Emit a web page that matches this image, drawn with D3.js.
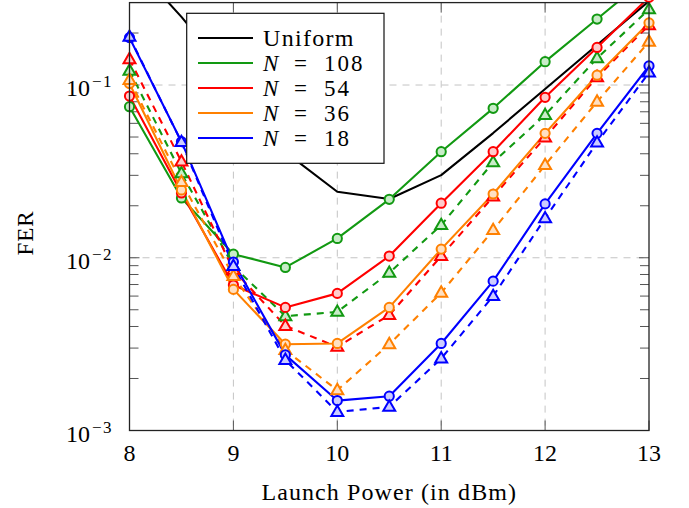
<!DOCTYPE html>
<html><head><meta charset="utf-8">
<script src="https://cdn.jsdelivr.net/npm/d3@7/dist/d3.min.js"></script>
<style>body{margin:0;background:#fff}</style>
</head><body><svg id="c" width="689" height="508"></svg>
<script>
const powers = [8, 8.5, 9, 9.5, 10, 10.5, 11, 11.5, 12, 12.5, 13];
const uniform   = [0.53, 0.248, 0.107, 0.0409, 0.0241, 0.0219, 0.0301, 0.0527, 0.0948, 0.1706, 0.306];
const n108Solid = [0.0749, 0.0222, 0.01049, 0.00879, 0.01294, 0.0218, 0.0411, 0.0733, 0.1365, 0.241, 0.427];
const n108Dash  = [0.121, 0.0308, 0.00895, 0.00459, 0.00486, 0.00818, 0.01546, 0.0357, 0.067, 0.143, 0.274];
const n54Solid  = [0.0863, 0.0237, 0.00695, 0.00516, 0.00622, 0.01023, 0.0207, 0.0411, 0.0849, 0.165, 0.322];
const n54Dash   = [0.141, 0.036, 0.0085, 0.00403, 0.00305, 0.00466, 0.01023, 0.0226, 0.0496, 0.111, 0.222];
const n36Solid  = [0.102, 0.0247, 0.00656, 0.00316, 0.00319, 0.00516, 0.01122, 0.0234, 0.0525, 0.114, 0.229];
const n36Dash   = [0.107, 0.0274, 0.00783, 0.00292, 0.00171, 0.00316, 0.00627, 0.01445, 0.0344, 0.08, 0.178];
const n18Solid  = [0.188, 0.047, 0.00944, 0.00274, 0.00149, 0.00158, 0.00319, 0.00732, 0.0205, 0.0525, 0.129];
const n18Dash   = [0.19, 0.0467, 0.00895, 0.00256, 0.00128, 0.00137, 0.00261, 0.006, 0.0169, 0.0464, 0.118];
const legendLabels = ["Uniform", "108", "54", "36", "18"];
const xTicks = [8, 9, 10, 11, 12, 13];
const yMajor = [1e-3, 1e-2, 1e-1];
const yExp = ["−3", "−2", "−1"];

const colors = {k:"#000000", g:"#129912", r:"#ff0000", o:"#ff8000", b:"#0000ff"};
const fills = {g:"#c8ecc8", r:"#ffcccc", o:"#ffe0c2", b:"#ccccff"};

const series = [
  {v: uniform, c: "k", dash: false, mark: null},
  {v: n108Solid, c: "g", dash: false, mark: "circle"},
  {v: n108Dash, c: "g", dash: true, mark: "triangle"},
  {v: n54Solid, c: "r", dash: false, mark: "circle"},
  {v: n54Dash, c: "r", dash: true, mark: "triangle"},
  {v: n36Solid, c: "o", dash: false, mark: "circle"},
  {v: n36Dash, c: "o", dash: true, mark: "triangle"},
  {v: n18Solid, c: "b", dash: false, mark: "circle"},
  {v: n18Dash, c: "b", dash: true, mark: "triangle"},
];

const L = 129.5, R = 649, T = 2.6, B = 430.5;
const x = d3.scaleLinear().domain([8, 13]).range([L, R]);
const y = d3.scaleLog().domain([1e-3, 0.3]).range([B, T]);
const svg = d3.select("#c");
const font = "'Liberation Serif','DejaVu Serif',serif";

svg.append("defs").append("clipPath").attr("id","clip")
  .append("rect").attr("x",L).attr("y",T).attr("width",R-L).attr("height",B-T);

// grid
const grid = svg.append("g");
grid.selectAll("line.gx").data(xTicks.filter(t=>t>8&&t<13)).join("line")
  .attr("x1",d=>x(d)).attr("x2",d=>x(d)).attr("y1",T).attr("y2",B)
  .attr("stroke","#c4c4c4").attr("stroke-width",1).attr("stroke-dasharray","7,6");
grid.selectAll("line.gy").data(yMajor.filter(t=>t>1e-3)).join("line")
  .attr("y1",d=>y(d)).attr("y2",d=>y(d)).attr("x1",L).attr("x2",R)
  .attr("stroke","#c4c4c4").attr("stroke-width",1).attr("stroke-dasharray","7,6");

// ticks
const yMinor = [];
[1e-3,1e-2,1e-1].forEach(d=>{for(let k=2;k<=9;k++){const v=d*k; if(v<=0.3) yMinor.push(v);}});
const tk = svg.append("g").attr("stroke","#555").attr("stroke-width",1);
tk.selectAll("line.ml").data(yMinor).join("line").attr("x1",L).attr("x2",L+9).attr("y1",d=>y(d)).attr("y2",d=>y(d));
tk.selectAll("line.mr").data(yMinor).join("line").attr("x1",R).attr("x2",R-9).attr("y1",d=>y(d)).attr("y2",d=>y(d));
tk.selectAll("line.Ml").data(yMajor).join("line").attr("x1",L).attr("x2",L+10).attr("y1",d=>y(d)).attr("y2",d=>y(d));
tk.selectAll("line.Mr").data(yMajor).join("line").attr("x1",R).attr("x2",R-10).attr("y1",d=>y(d)).attr("y2",d=>y(d));
tk.selectAll("line.xb").data(xTicks).join("line").attr("x1",d=>x(d)).attr("x2",d=>x(d)).attr("y1",B).attr("y2",B-10);
tk.selectAll("line.xt").data(xTicks).join("line").attr("x1",d=>x(d)).attr("x2",d=>x(d)).attr("y1",T).attr("y2",T+10);

// lines
const line = d3.line().x((d,i)=>x(powers[i])).y(d=>y(d));
const plot = svg.append("g");
series.forEach(s=>{
  plot.append("path").datum(s.v).attr("d",line).attr("clip-path","url(#clip)")
    .attr("fill","none").attr("stroke",colors[s.c]).attr("stroke-width",2.1)
    .attr("stroke-dasharray", s.dash ? "7,6" : null).attr("stroke-linejoin","round");
});
// markers
series.forEach(s=>{
  if(!s.mark) return;
  const pts = s.v.map((v,i)=>({px:powers[i], v})).filter(p=>p.v<=0.33);
  const g = plot.append("g");
  if(s.mark==="circle"){
    g.selectAll("circle").data(pts).join("circle")
      .attr("cx",d=>x(d.px)).attr("cy",d=>y(d.v)).attr("r",4.6)
      .attr("fill",fills[s.c]).attr("stroke",colors[s.c]).attr("stroke-width",2);
  } else {
    const tri = d3.symbol().type(d3.symbolTriangle).size(62);
    g.selectAll("path").data(pts).join("path")
      .attr("transform",d=>`translate(${x(d.px)},${y(d.v)+0.5})`).attr("d",tri)
      .attr("fill",fills[s.c]).attr("stroke",colors[s.c]).attr("stroke-width",2).attr("stroke-linejoin","miter");
  }
});

// frame
svg.append("rect").attr("x",L).attr("y",T).attr("width",R-L).attr("height",B-T)
  .attr("fill","none").attr("stroke","#222").attr("stroke-width",1.3);

// tick labels
svg.append("g").selectAll("text").data(xTicks).join("text")
  .attr("x",d=>x(d)).attr("y",461).attr("text-anchor","middle")
  .attr("font-family",font).attr("font-size",24).text(d=>d);
const yl = svg.append("g").selectAll("text").data(yMajor).join("text")
  .attr("x",113).attr("y",d=>y(d)+11).attr("text-anchor","end")
  .attr("font-family",font).attr("font-size",24);
yl.append("tspan").text("10");
yl.append("tspan").attr("dy",-9).attr("dx",2).attr("font-size",17).attr("letter-spacing",1.5).text((d,i)=>yExp[i]);

// axis titles
svg.append("text").attr("x",(L+R)/2).attr("y",500).attr("text-anchor","middle")
  .attr("font-family",font).attr("font-size",24).attr("letter-spacing",1.1).text("Launch Power (in dBm)");
svg.append("text").attr("transform","translate(33,233) rotate(-90)").attr("text-anchor","middle")
  .attr("font-family",font).attr("font-size",23).attr("letter-spacing",1).text("FER");

// legend
const lg = svg.append("g");
lg.append("rect").attr("x",186.7).attr("y",13.3).attr("width",197.3).attr("height",150)
  .attr("fill","#fff").attr("stroke","#111").attr("stroke-width",1.2);
const legColors = ["k","g","r","o","b"];
legendLabels.forEach((lab,i)=>{
  const yy = 38 + i*25;
  lg.append("line").attr("x1",198).attr("x2",253).attr("y1",yy).attr("y2",yy)
    .attr("stroke",colors[legColors[i]]).attr("stroke-width",2);
  const t = lg.append("text").attr("x",263).attr("y",yy+8).attr("font-family",font).attr("font-size",23);
  if(i===0){
    t.attr("letter-spacing",1.3).attr("font-size",24).text(lab);
  } else {
    t.append("tspan").attr("font-style","italic").text("N");
    t.append("tspan").attr("x",294).text("=");
    t.append("tspan").attr("x",324).attr("letter-spacing",2).text(lab);
  }
});
</script></body></html>
